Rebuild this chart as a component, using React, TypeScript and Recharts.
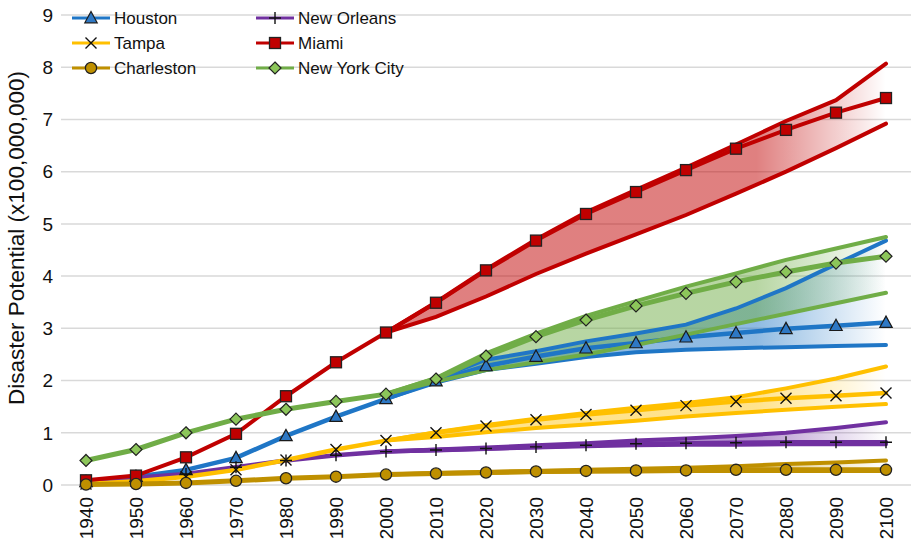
import React from "react";
import { ComposedChart, Line, Area, XAxis, YAxis, CartesianGrid, Legend } from "recharts";

const years = [
  "1940", "1950", "1960", "1970", "1980", "1990", "2000", "2010", "2020",
  "2030", "2040", "2050", "2060", "2070", "2080", "2090", "2100",
];
const yTicks = [0, 1, 2, 3, 4, 5, 6, 7, 8, 9];

const _ = null;

// central estimate per city, then the upper / lower projection bounds (from 2000 on)
const houston = [0.06, 0.16, 0.29, 0.52, 0.94, 1.31, 1.65, 1.99, 2.28, 2.46, 2.62, 2.72, 2.83, 2.91, 2.99, 3.05, 3.11];
const houstonHigh = [_, _, _, _, _, _, 1.65, 2.03, 2.4, 2.56, 2.75, 2.9, 3.07, 3.38, 3.77, 4.23, 4.68];
const houstonLow = [_, _, _, _, _, _, 1.65, 1.96, 2.2, 2.32, 2.45, 2.54, 2.59, 2.62, 2.64, 2.66, 2.68];

const newOrleans = [0.03, 0.14, 0.21, 0.34, 0.47, 0.57, 0.64, 0.67, 0.7, 0.73, 0.76, 0.79, 0.8, 0.81, 0.82, 0.82, 0.82];
const newOrleansHigh = [_, _, _, _, _, _, 0.64, 0.68, 0.72, 0.76, 0.8, 0.85, 0.89, 0.94, 1.0, 1.09, 1.2];
const newOrleansLow = [_, _, _, _, _, _, 0.64, 0.66, 0.69, 0.72, 0.74, 0.76, 0.77, 0.77, 0.78, 0.78, 0.78];

const tampa = [0.02, 0.07, 0.16, 0.29, 0.48, 0.68, 0.85, 1.0, 1.13, 1.25, 1.35, 1.43, 1.52, 1.6, 1.66, 1.71, 1.76];
const tampaHigh = [_, _, _, _, _, _, 0.85, 1.01, 1.15, 1.27, 1.38, 1.48, 1.57, 1.68, 1.85, 2.04, 2.27];
const tampaLow = [_, _, _, _, _, _, 0.85, 0.92, 1.01, 1.09, 1.16, 1.23, 1.31, 1.38, 1.44, 1.5, 1.55];

const miami = [0.09, 0.18, 0.53, 0.98, 1.7, 2.35, 2.92, 3.49, 4.11, 4.68, 5.19, 5.61, 6.03, 6.44, 6.8, 7.13, 7.41];
const miamiHigh = [_, _, _, _, _, _, 2.92, 3.5, 4.13, 4.7, 5.22, 5.65, 6.08, 6.52, 6.97, 7.37, 8.07];
const miamiLow = [_, _, _, _, _, _, 2.92, 3.22, 3.61, 4.04, 4.43, 4.8, 5.17, 5.58, 6.0, 6.45, 6.92];

const charleston = [0.01, 0.02, 0.04, 0.08, 0.13, 0.16, 0.2, 0.22, 0.24, 0.26, 0.27, 0.28, 0.28, 0.29, 0.29, 0.29, 0.29];
const charlestonHigh = [_, _, _, _, _, _, 0.2, 0.23, 0.25, 0.27, 0.29, 0.31, 0.33, 0.36, 0.4, 0.43, 0.47];
const charlestonLow = [_, _, _, _, _, _, 0.2, 0.22, 0.23, 0.25, 0.26, 0.26, 0.27, 0.27, 0.27, 0.27, 0.27];

const newYork = [0.47, 0.68, 1.0, 1.26, 1.45, 1.6, 1.74, 2.03, 2.47, 2.84, 3.16, 3.43, 3.67, 3.89, 4.08, 4.25, 4.38];
const newYorkHigh = [_, _, _, _, _, _, 1.74, 2.05, 2.52, 2.9, 3.24, 3.52, 3.8, 4.05, 4.31, 4.53, 4.75];
const newYorkLow = [_, _, _, _, _, _, 1.74, 1.98, 2.2, 2.35, 2.5, 2.68, 2.88, 3.08, 3.28, 3.48, 3.68];

type Shape = "triangle" | "plus" | "cross" | "square" | "circle" | "diamond";

const cities = [
  { key: "houston", name: "Houston", color: "#1f76c6", dotFill: "#2e78c4", band: 0.5, width: 4.5, shape: "triangle" as Shape, mid: houston, high: houstonHigh, low: houstonLow },
  { key: "newOrleans", name: "New Orleans", color: "#7030a0", dotFill: "#7030a0", band: 0.5, width: 4.5, shape: "plus" as Shape, mid: newOrleans, high: newOrleansHigh, low: newOrleansLow },
  { key: "tampa", name: "Tampa", color: "#ffc000", dotFill: "#ffc000", band: 0.45, width: 4.5, shape: "cross" as Shape, mid: tampa, high: tampaHigh, low: tampaLow },
  { key: "miami", name: "Miami", color: "#c00000", dotFill: "#c00000", band: 0.5, width: 4, shape: "square" as Shape, mid: miami, high: miamiHigh, low: miamiLow },
  { key: "charleston", name: "Charleston", color: "#bf9000", dotFill: "#bf9000", band: 0.5, width: 5, shape: "circle" as Shape, mid: charleston, high: charlestonHigh, low: charlestonLow },
  { key: "newYork", name: "New York City", color: "#70ad47", dotFill: "#8cc65a", band: 0.5, width: 5, shape: "diamond" as Shape, mid: newYork, high: newYorkHigh, low: newYorkLow },
];

const data = years.map((year, i) => {
  const row: Record<string, any> = { year };
  cities.forEach((c) => {
    row[c.key] = c.mid[i];
    row[c.key + "High"] = c.high[i];
    row[c.key + "Low"] = c.low[i];
    row[c.key + "Band"] = c.high[i] == null ? null : [c.low[i], c.high[i]];
  });
  return row;
});

const FONT = "'Liberation Sans', Arial, sans-serif";

function Marker({ shape, cx, cy, fill }: { shape: Shape; cx: number; cy: number; fill: string }) {
  switch (shape) {
    case "triangle":
      return <polygon points={`${cx},${cy - 6.5} ${cx - 6.2},${cy + 4.8} ${cx + 6.2},${cy + 4.8}`} fill={fill} stroke="#1a1a1a" strokeWidth={1.2} />;
    case "square":
      return <rect x={cx - 5.5} y={cy - 5.5} width={11} height={11} fill={fill} stroke="#222" strokeWidth={1.3} />;
    case "circle":
      return <circle cx={cx} cy={cy} r={5.6} fill={fill} stroke="#222" strokeWidth={1.3} />;
    case "diamond":
      return <polygon points={`${cx},${cy - 6} ${cx + 6},${cy} ${cx},${cy + 6} ${cx - 6},${cy}`} fill={fill} stroke="#222" strokeWidth={1.2} />;
    case "cross":
      return <path d={`M${cx - 5.5},${cy - 5.5}L${cx + 5.5},${cy + 5.5}M${cx + 5.5},${cy - 5.5}L${cx - 5.5},${cy + 5.5}`} stroke="#111" strokeWidth={1.4} fill="none" />;
    case "plus":
      return <path d={`M${cx - 6},${cy}H${cx + 6}M${cx},${cy - 6}V${cy + 6}`} stroke="#111" strokeWidth={1.4} fill="none" />;
  }
  return null;
}

const renderLegend = () => (
  <svg width={380} height={80} style={{ display: "block" }}>
    {cities.map((c, i) => {
      const x = (i % 2) * 184 + 12;
      const y = Math.floor(i / 2) * 25 + 13;
      return (
        <g key={c.key}>
          <line x1={x} y1={y} x2={x + 38} y2={y} stroke={c.color} strokeWidth={3} />
          <Marker shape={c.shape} cx={x + 19} cy={y} fill={c.dotFill} />
          <text x={x + 42} y={y} dy="0.36em" fontSize={17} fontFamily={FONT} fill="#111">
            {c.name}
          </text>
        </g>
      );
    })}
  </svg>
);

const YearTick = ({ x, y, payload }: any) => (
  <text
    x={x}
    y={y}
    transform={`rotate(-90 ${x} ${y})`}
    textAnchor="end"
    dy="0.35em"
    fontSize={19}
    fontFamily={FONT}
    fill="#111"
  >
    {payload.value}
  </text>
);

const AxisTitle = () => {
  const cx = 16;
  const cy = 238;
  return (
    <text x={cx} y={cy} transform={`rotate(-90 ${cx} ${cy})`} textAnchor="middle" dy="0.35em" fontSize={22.5} fontFamily={FONT} fill="#111">
      Disaster Potential (x100,000,000)
    </text>
  );
};

export default function App() {
  return (
    <div style={{ position: "absolute", left: 0, top: 0, width: 912, height: 543, background: "#fff" }}>
      <ComposedChart width={912} height={543} data={data} margin={{ top: 15, right: 1, bottom: 0, left: 0 }}>
        <defs>
          {cities.map((c) => (
            <linearGradient key={c.key} id={`band-${c.key}`} x1="0" y1="0" x2="1" y2="0">
              <stop offset="0" stopColor={c.color} stopOpacity={c.band} />
              <stop offset="0.74" stopColor={c.color} stopOpacity={c.band} />
              <stop offset="1" stopColor={c.color} stopOpacity={0} />
            </linearGradient>
          ))}
        </defs>
        <CartesianGrid horizontal vertical={false} stroke="#d9d9d9" strokeWidth={1.5} />
        <XAxis
          dataKey="year"
          height={58}
          padding={{ left: 25, right: 25 }}
          axisLine={false}
          tickLine={false}
          tickSize={0}
          tickMargin={12}
          interval={0}
          tick={<YearTick />}
        />
        <YAxis
          type="number"
          domain={[0, 9]}
          ticks={yTicks}
          width={61}
          axisLine={false}
          tickLine={false}
          tickSize={0}
          tickMargin={8}
          tick={{ fontSize: 19, fontFamily: FONT, fill: "#111" }}
          label={<AxisTitle />}
        />
        <Legend layout="vertical" align="center" verticalAlign="middle" content={renderLegend} wrapperStyle={{ top: 5, left: 60, width: 380 }} />
        {cities.flatMap((c) => [
          <Area
            key={c.key + "Band"}
            dataKey={c.key + "Band"}
            stroke="none"
            fill={`url(#band-${c.key})`}
            fillOpacity={1}
            isAnimationActive={false}
            legendType="none"
          />,
          <Line
            key={c.key + "High"}
            dataKey={c.key + "High"}
            stroke={c.color}
            strokeWidth={4}
            strokeLinecap="round"
            dot={false}
            activeDot={false}
            isAnimationActive={false}
            legendType="none"
          />,
          <Line
            key={c.key + "Low"}
            dataKey={c.key + "Low"}
            stroke={c.color}
            strokeWidth={4}
            strokeLinecap="round"
            dot={false}
            activeDot={false}
            isAnimationActive={false}
            legendType="none"
          />,
          <Line
            key={c.key}
            dataKey={c.key}
            name={c.name}
            stroke={c.color}
            strokeWidth={c.width}
            strokeLinecap="round"
            activeDot={false}
            isAnimationActive={false}
            dot={(p: any) =>
              p.cx == null || p.cy == null ? (
                <g key={`${c.key}-${p.index}`} />
              ) : (
                <g key={`${c.key}-${p.index}`}>
                  <Marker shape={c.shape} cx={p.cx} cy={p.cy} fill={c.dotFill} />
                </g>
              )
            }
          />,
        ])}
      </ComposedChart>
    </div>
  );
}
